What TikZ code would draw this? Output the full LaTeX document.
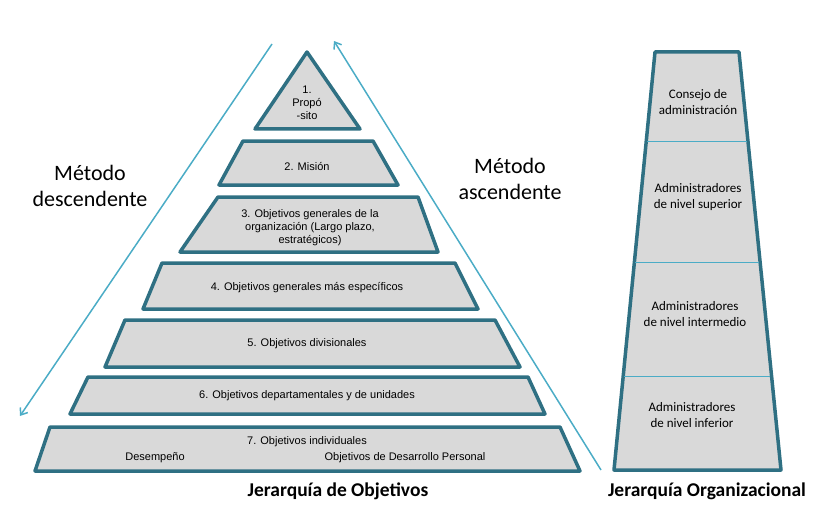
\documentclass[tikz,border=0pt]{standalone}
\usepackage{fontspec}
\setmainfont{Liberation Sans}
\newfontfamily\calib{Carlito}
\usetikzlibrary{arrows.meta}
\definecolor{tealdark}{HTML}{2F7083}
\definecolor{teallight}{HTML}{4BACC6}
\definecolor{layergray}{HTML}{D9D9D9}
\tikzset{
  layer/.style={draw=tealdark, line width=3.5pt, fill=layergray, line join=round},
  ltext/.style={font=\fontsize{11}{13}\selectfont, align=center},
  otext/.style={font=\calib\fontsize{13}{15.5}\selectfont, align=center},
  method/.style={font=\calib\fontsize{22}{26}\selectfont, align=center},
  title/.style={font=\calib\bfseries\fontsize{19.5}{22}\selectfont},
  arrowline/.style={draw=teallight, line width=1.5pt, -{Straight Barb[length=6pt,width=9pt]}}
}
\begin{document}
\begin{tikzpicture}[x=1pt,y=-1pt]
		\useasboundingbox (0,0) rectangle (840,524);
		
		% Piramide de objetivos
		\draw[layer] (307,52) -- (360,129) -- (255,129) -- cycle;
		\draw[layer] (243,141) -- (373,141) -- (398,185) -- (219,185) -- cycle;
		\draw[layer] (218,197) -- (418,197) -- (438,252) -- (180,252) -- cycle;
		\draw[layer] (162,263) -- (455,263) -- (478,309) -- (143,309) -- cycle;
		\draw[layer] (125,320) -- (495,320) -- (520,367) -- (105,367) -- cycle;
		\draw[layer] (88,377) -- (528,377) -- (545,414) -- (70,414) -- cycle;
		\draw[layer] (50,427) -- (560,427) -- (580,471) -- (35,471) -- cycle;
		
		\node[ltext] (prop) at (307,103) {1.\\Propó\\-sito};
		\node[ltext] (mision) at (307,167) {2. Misión};
		\node[ltext] (generales) at (310,228) {3. Objetivos generales de la\\organización (Largo plazo,\\estratégicos)};
		\node[ltext] (especificos) at (307,288) {4. Objetivos generales más específicos};
		\node[ltext] (divisionales) at (307,344) {5. Objetivos divisionales};
		\node[ltext] (departamentales) at (307,396) {6. Objetivos departamentales y de unidades};
		\node[ltext] (individuales) at (307,442) {7. Objetivos individuales};
		\node[ltext] (desempeno) at (155,458) {Desempeño};
		\node[ltext] (desarrollo) at (405,458) {Objetivos de Desarrollo Personal};
		
		% Metodos
		\coordinate (dtop) at (272,44);
		\coordinate (dbot) at (20,416);
		\coordinate (abot) at (601,470);
		\coordinate (atop) at (334,41);
		\draw[arrowline] (dtop) -- (dbot);
		\draw[arrowline] (abot) -- (atop);
		\node[method] (desc) at (90,186) {Método\\descendente};
		\node[method] (asc) at (510,179) {Método\\ascendente};
		
		% Jerarquia organizacional
		\draw[layer] (655,52) -- (739,52) -- (781,470) -- (614,470) -- cycle;
		\draw[teallight, line width=0.8pt] (647,141) -- (747,141);
		\draw[teallight, line width=0.8pt] (635,262) -- (759,262);
		\draw[teallight, line width=0.8pt] (624,376) -- (770,376);
		\node[otext] (consejo) at (698,102) {Consejo de\\administración};
		\node[otext] (superior) at (698,197) {Administradores\\de nivel superior};
		\node[otext] (intermedio) at (695,314) {Administradores\\de nivel intermedio};
		\node[otext] (inferior) at (692,415) {Administradores\\de nivel inferior};
		
		% Titulos
		\node[title] (tobj) at (338,491) {Jerarquía de Objetivos};
		\node[title] (torg) at (707,491) {Jerarquía Organizacional};
	\end{tikzpicture}
\end{document}
